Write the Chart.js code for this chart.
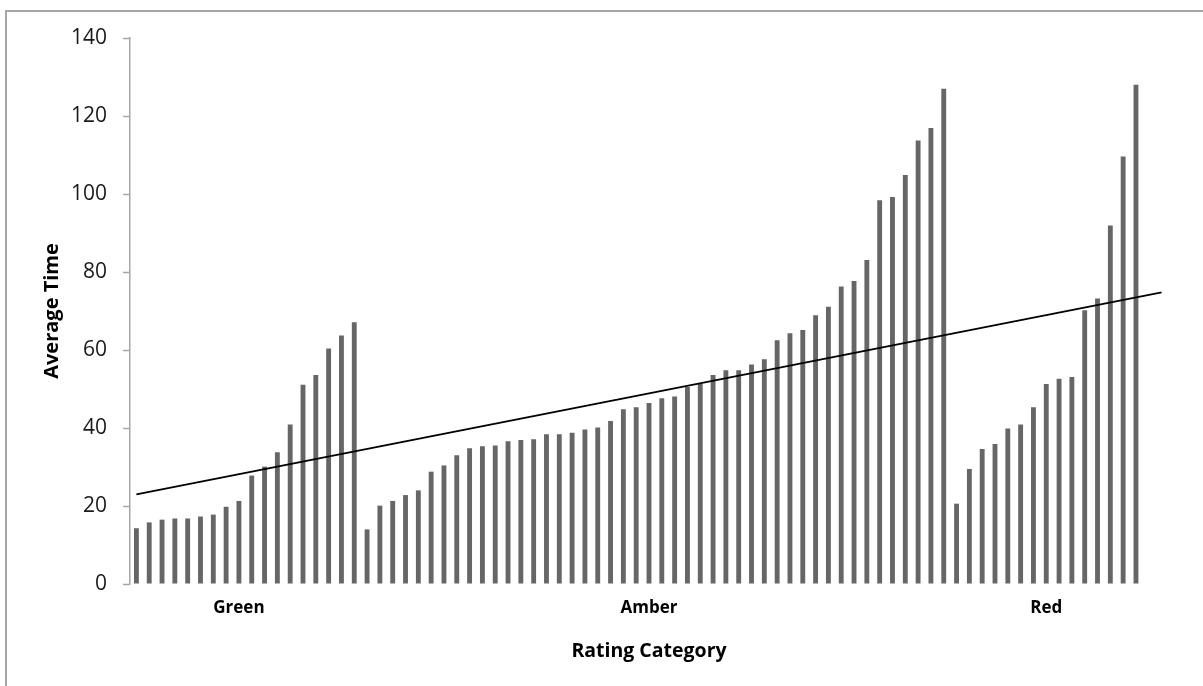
<!DOCTYPE html>
<html>
<head>
<meta charset="utf-8">
<script src="https://cdn.jsdelivr.net/npm/chart.js@4.4.1/dist/chart.umd.min.js"></script>
<style>
  html, body { margin: 0; padding: 0; background: #fff; }
  #wrap { position: relative; width: 1203px; height: 686px; overflow: hidden; }
  #frame { position: absolute; left: 5px; top: 10px; width: 1230px; height: 720px; border: 2px solid #a6a6a6; box-sizing: border-box; }
  #chart { position: absolute; left: 0; top: 0; }
</style>
</head>
<body>
<div id="wrap">
  <div id="frame"></div>
  <canvas id="chart" width="1203" height="686"></canvas>
</div>
<script>
// average time per item, sorted inside each rating category
const greenTimes = [14.3, 15.8, 16.5, 16.8, 16.8, 17.3, 17.8, 19.8, 21.3, 27.8, 30.1, 33.8, 40.9, 51.1, 53.6, 60.4, 63.7, 67.1];
const amberTimes = [14.0, 20.1, 21.3, 22.8, 24.0, 28.8, 30.4, 33.0, 34.8, 35.3, 35.5, 36.6, 36.9, 37.1, 38.4, 38.4, 38.8, 39.6, 40.1, 41.8,
                    44.8, 45.3, 46.4, 47.6, 48.1, 50.5, 51.3, 53.6, 54.8, 54.8, 56.3, 57.6, 62.5, 64.3, 65.1, 68.9, 71.1, 76.3, 77.7, 83.1,
                    98.4, 99.2, 104.9, 113.7, 116.9, 127.0];
const redTimes = [20.6, 29.5, 34.6, 35.9, 39.9, 40.9, 45.3, 51.3, 52.6, 53.1, 70.2, 73.2, 91.9, 109.6, 128.0];
const groupNames = ['Green', 'Amber', 'Red'];
const blankSlots = 2;              // empty categories after the last bar
const trendEnds = [23.0, 74.8];    // linear trend, first and last category
const yTicks = [0, 20, 40, 60, 80, 100, 120, 140];

const groups = [greenTimes, amberTimes, redTimes];
const values = [];
const labels = [];
groups.forEach((g, gi) => {
  const mid = Math.floor((g.length - 1) / 2);
  g.forEach((v, i) => {
    values.push(v);
    labels.push(i === mid ? groupNames[gi] : '');
  });
});
for (let i = 0; i < blankSlots; i++) { values.push(null); labels.push(''); }

const trend = labels.map(() => null);
trend[0] = trendEnds[0];
trend[trend.length - 1] = trendEnds[1];

const axisGray = '#a6a6a6';

new Chart(document.getElementById('chart').getContext('2d'), {
  data: {
    labels: labels,
    datasets: [{
      type: 'line',
      data: trend,
      borderColor: '#000',
      borderWidth: 1.8,
      pointRadius: 0,
      spanGaps: true,
      fill: false,
      order: 0
    }, {
      type: 'bar',
      data: values,
      backgroundColor: '#666666',
      categoryPercentage: 1,
      barPercentage: 0.38,
      order: 1
    }]
  },
  options: {
    responsive: false,
    animation: false,
    layout: { padding: { left: 5, top: 38, right: 35, bottom: 0 } },
    plugins: { legend: { display: false }, tooltip: { enabled: false } },
    scales: {
      x: {
        grid: { display: false },
        border: { display: false },
        ticks: {
          autoSkip: false, maxRotation: 0, minRotation: 0, padding: 6,
          color: '#000', font: { family: 'Open Sans', size: 17, weight: 'bold' }
        },
        title: {
          display: true, text: 'Rating Category', color: '#000',
          font: { family: 'Open Sans', size: 19.5, weight: 'bold' },
          padding: { top: 0, bottom: 23 }
        },
        afterFit: s => { s.height = 102; }
      },
      y: {
        min: 0, max: 140,
        afterBuildTicks: s => { s.ticks = yTicks.map(v => ({ value: v })); },
        grid: { drawOnChartArea: false, drawTicks: true, tickLength: 7, tickColor: axisGray, tickWidth: 1.5 },
        border: { display: true, color: axisGray, width: 1.5 },
        ticks: { padding: 16, color: '#1a1a1a', font: { family: 'Open Sans', size: 21 } },
        title: {
          display: true, text: 'Average Time', color: '#000',
          font: { family: 'Open Sans', size: 20, weight: 'bold' },
          padding: { top: 35, bottom: 0 }
        },
        afterFit: s => { s.width = 125; }
      }
    }
  }
});
</script>
</body>
</html>
